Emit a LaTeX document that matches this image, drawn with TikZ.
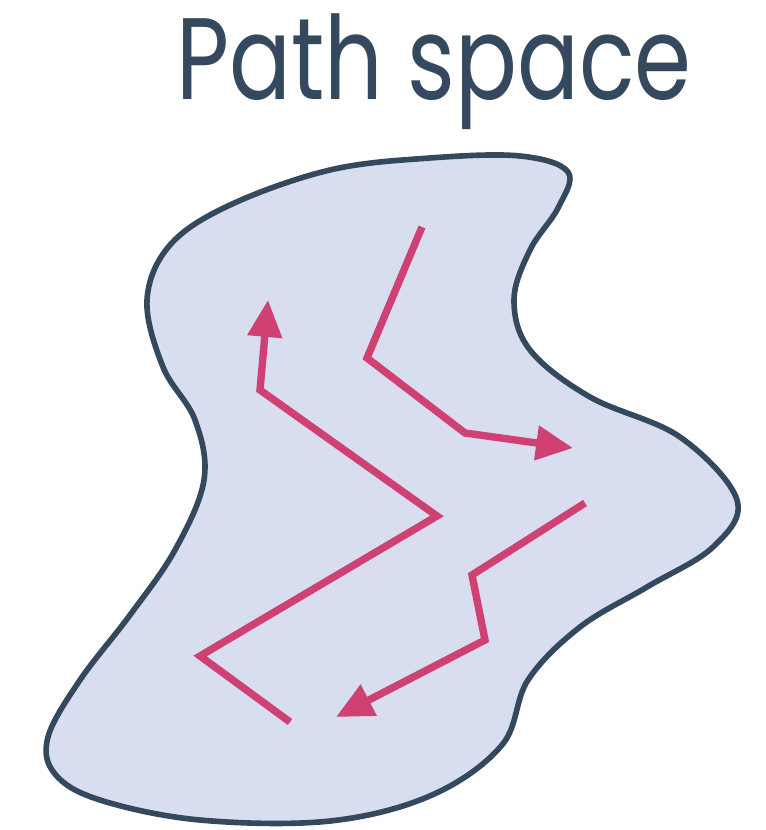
\documentclass[tikz,border=0pt]{standalone}
\usepackage{fontspec}
\setmainfont{Poppins}
\usetikzlibrary{arrows.meta,positioning,calc}
\definecolor{slate}{RGB}{52,73,94}
\definecolor{lavender}{RGB}{216,222,240}
\definecolor{rose}{RGB}{208,65,115}

\begin{document}
\begin{tikzpicture}[x=0.02cm,y=-0.02cm,>={Triangle[length=21pt,width=19pt]},
  walk/.style={draw=rose,line width=4.2pt,->,line join=miter}]
  \useasboundingbox (0,0) rectangle (765,830);
  \node[text=slate,font=\fontsize{66}{66}\selectfont,anchor=base,xscale=0.79,inner sep=0pt] (title) at (434,100) {Path space};
  % the region
  \draw[slate,fill=lavender,line width=3.2pt]
    plot[smooth cycle,tension=0.6] coordinates {(520,156) (568,172) (558,208) (530,250) (514,300)
      (530,350) (590,397) (680,437) (737,500) (713,547) (647,587) (580,627) (528,680)
      (502,745) (432,795) (330,821) (200,820) (100,800) (55,774) (48,737) (80,680)
      (130,615) (175,550) (204,480) (195,420) (163,367) (147,300) (170,245) (230,205)
      (330,170) (430,158)};
  % three sample paths
  \coordinate (a0) at (290,722); \coordinate (a1) at (200,656);
  \coordinate (a2) at (437,516); \coordinate (a3) at (260,390); \coordinate (a4) at (268,300);
  \coordinate (b0) at (422,227); \coordinate (b1) at (367,358);
  \coordinate (b2) at (465,433); \coordinate (b3) at (573,448);
  \coordinate (c0) at (585,503); \coordinate (c1) at (472,575);
  \coordinate (c2) at (485,640); \coordinate (c3) at (336,717);
  \draw[walk] (a0) -- (a1) -- (a2) -- (a3) -- (a4);
  \draw[walk] (b0) -- (b1) -- (b2) -- (b3);
  \draw[walk] (c0) -- (c1) -- (c2) -- (c3);
\end{tikzpicture}
\end{document}
